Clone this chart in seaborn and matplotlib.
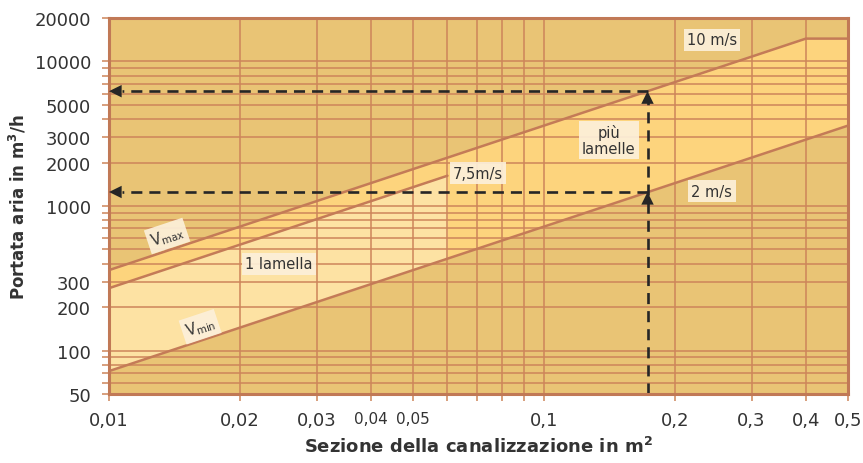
import matplotlib
matplotlib.use("Agg")
import matplotlib.pyplot as plt
from matplotlib.ticker import FixedLocator, FixedFormatter, NullLocator
import pandas as pd
import seaborn as sns

# --- Rette di velocità: estremi (sezione in m², portata in m³/h) ---
sez_10 = [0.01, 0.4, 0.5]
port_10 = [360, 14400, 14400]
sez_75 = [0.01, 0.06]
port_75 = [270, 1620]
sez_2 = [0.01, 0.5]
port_2 = [72, 3600]

# --- Campi colorati ---
sez_campo = [0.01, 0.06, 0.4, 0.5]
port_campo_sup = [360, 2160, 14400, 14400]
port_campo_inf = [72, 432, 2880, 3600]
sez_lamella = [0.01, 0.06]
port_lamella_sup = [270, 1620]
port_lamella_inf = [72, 432]

# --- Esempio di lettura (frecce tratteggiate) ---
sez_esempio = 0.173
port_esempio = [1250, 6230]

# --- Assi ---
x_ticks = [0.01, 0.02, 0.03, 0.04, 0.05, 0.06, 0.07, 0.08, 0.09,
           0.1, 0.2, 0.3, 0.4, 0.5]
x_labels = ["0,01", "0,02", "0,03", "0,04", "0,05", "", "", "", "",
            "0,1", "0,2", "0,3", "0,4", "0,5"]
y_ticks = [50, 60, 70, 80, 90, 100, 200, 300, 400, 500, 600, 700, 800, 900,
           1000, 2000, 3000, 4000, 5000, 6000, 7000, 8000, 9000, 10000, 20000]
y_labels = ["50", "", "", "", "", "100", "200", "300", "", "", "", "", "", "",
            "1000", "2000", "3000", "", "5000", "", "", "", "", "10000", "20000"]

# --- Etichette nel grafico: (testo, sezione, portata, rotazione) ---
etichette = [
    ("10 m/s", 0.2433, 14090, 0),
    ("2 m/s", 0.2433, 1270, 0),
    ("più\nlamelle", 0.141, 2864, 0),
    ("7,5m/s", 0.0705, 1691, 0),
    ("1 lamella", 0.0246, 397, 0),
    (r"V$_{\mathregular{max}}$", 0.0136, 620, 18.4),
    (r"V$_{\mathregular{min}}$", 0.0162, 146, 18.4),
]

C_FONDO = "#E9C475"
C_MEDIO = "#FDD47D"
C_CHIARO = "#FDE2A3"
C_GRIGLIA = "#CD855A"
C_RETTE = "#C47B57"
C_BORDO = "#C17956"
C_TESTO = "#333333"
C_FRECCE = "#262626"
C_BOX = "#FCF0DA"

sns.set_style("ticks")
plt.rcParams["font.family"] = ["DejaVu Sans"]
plt.rcParams["mathtext.fontset"] = "dejavusans"

fig = plt.figure(figsize=(8.63, 4.64), dpi=100)
ax = fig.add_axes([109 / 863, 1 - 395 / 464, (848 - 109) / 863, (395 - 19) / 464])
ax.set_facecolor(C_FONDO)
ax.set_xscale("log")
ax.set_yscale("log")
ax.set_xlim(0.01, 0.5)
ax.set_ylim(50, 20000)

# campi
ax.fill_between(sez_campo, port_campo_inf, port_campo_sup, color=C_MEDIO, lw=0, zorder=1)
ax.fill_between(sez_lamella, port_lamella_inf, port_lamella_sup, color=C_CHIARO, lw=0, zorder=1)

# rette di velocità
rette = pd.concat([
    pd.DataFrame({"sezione": sez_10, "portata": port_10, "retta": "10 m/s"}),
    pd.DataFrame({"sezione": sez_75, "portata": port_75, "retta": "7,5 m/s"}),
    pd.DataFrame({"sezione": sez_2, "portata": port_2, "retta": "2 m/s"}),
])
sns.lineplot(data=rette, x="sezione", y="portata", units="retta", estimator=None,
             color=C_RETTE, lw=1.8, sort=False, ax=ax, zorder=3)

# griglia e tacche
ax.xaxis.set_major_locator(FixedLocator(x_ticks))
ax.xaxis.set_major_formatter(FixedFormatter(x_labels))
ax.xaxis.set_minor_locator(NullLocator())
ax.yaxis.set_major_locator(FixedLocator(y_ticks))
ax.yaxis.set_major_formatter(FixedFormatter(y_labels))
ax.yaxis.set_minor_locator(NullLocator())
ax.grid(True, which="major", color=C_GRIGLIA, lw=1.1)
ax.set_axisbelow("line")
ax.tick_params(axis="both", which="major", direction="out", length=5, width=1.1,
               color=C_GRIGLIA, labelcolor=C_TESTO, labelsize=13)
ax.tick_params(axis="x", pad=7)
ax.tick_params(axis="y", pad=8)
for lab in ax.get_xticklabels():
    if lab.get_text() in ("0,04", "0,05"):
        lab.set_fontsize(11)
for sp in ax.spines.values():
    sp.set_visible(True)
    sp.set_color(C_BORDO)
    sp.set_linewidth(2.2)
    sp.set_zorder(6)

ax.set_xlabel(r"Sezione della canalizzazione in m$^{\mathbf{2}}$", fontsize=13,
              fontweight="bold", color=C_TESTO, labelpad=5)
ax.set_ylabel(r"Portata aria in m$^{\mathbf{3}}$/h", fontsize=12,
              fontweight="bold", color=C_TESTO, labelpad=4)

# frecce tratteggiate
tratto = (0, (4.2, 2.65))
ax.plot([sez_esempio, sez_esempio], [50, port_esempio[1] * 0.93], color=C_FRECCE,
        lw=1.9, ls=tratto, zorder=5, clip_on=False)
for p in port_esempio:
    ax.plot([sez_esempio, 0.0107], [p, p], color=C_FRECCE, lw=1.9, ls=tratto, zorder=5)
    ax.annotate("", xy=(0.01, p), xytext=(10, 0), textcoords="offset points",
                annotation_clip=False,
                arrowprops=dict(arrowstyle="-|>,head_length=0.65,head_width=0.32",
                                mutation_scale=14, color=C_FRECCE, lw=0,
                                shrinkA=0, shrinkB=0), zorder=7)
    ax.annotate("", xy=(sez_esempio, p), xytext=(0, -10), textcoords="offset points",
                arrowprops=dict(arrowstyle="-|>,head_length=0.65,head_width=0.32",
                                mutation_scale=14, color=C_FRECCE, lw=0,
                                shrinkA=0, shrinkB=0), zorder=7)

# etichette
for testo, sx, sy, rot in etichette:
    ax.text(sx, sy, testo, fontsize=10.5, color=C_TESTO, ha="center", va="center",
            rotation=rot, rotation_mode="anchor", linespacing=1.1, zorder=8,
            bbox=dict(boxstyle="square,pad=0.22", fc=C_BOX, ec="none", alpha=0.92))

fig.savefig("out.png", dpi=100)
